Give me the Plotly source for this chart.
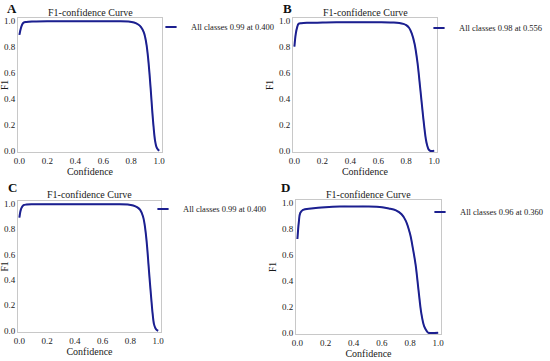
import plotly.graph_objects as go

W, H = 550, 361

# ---- data ----
xa = [0, 0.01, 0.02, 0.03, 0.05, 0.1, 0.2, 0.3, 0.4, 0.5, 0.6, 0.7, 0.78, 0.82, 0.85, 0.87, 0.89, 0.9, 0.91, 0.92, 0.93, 0.94, 0.95, 0.96, 0.97, 0.98, 0.99, 1.0]
ya = [0.89, 0.94, 0.97, 0.985, 0.99, 0.993, 0.995, 0.995, 0.995, 0.995, 0.995, 0.995, 0.993, 0.985, 0.97, 0.95, 0.91, 0.87, 0.81, 0.72, 0.6, 0.46, 0.31, 0.18, 0.08, 0.03, 0.01, 0.0]

xb = [0, 0.01, 0.02, 0.03, 0.05, 0.1, 0.2, 0.3, 0.4, 0.5, 0.6, 0.7, 0.75, 0.78, 0.8, 0.82, 0.84, 0.86, 0.88, 0.9, 0.92, 0.94, 0.95, 0.96, 0.97, 1.0]
yb = [0.80, 0.90, 0.95, 0.975, 0.98, 0.983, 0.985, 0.987, 0.988, 0.988, 0.987, 0.985, 0.982, 0.975, 0.965, 0.945, 0.9, 0.82, 0.68, 0.48, 0.27, 0.09, 0.04, 0.01, 0.0, 0.0]

xc = [0, 0.01, 0.02, 0.03, 0.05, 0.1, 0.2, 0.3, 0.4, 0.5, 0.6, 0.7, 0.78, 0.82, 0.85, 0.87, 0.89, 0.9, 0.91, 0.92, 0.93, 0.94, 0.95, 0.96, 0.97, 0.98, 0.99, 1.0]
yc = [0.89, 0.95, 0.975, 0.988, 0.992, 0.994, 0.995, 0.995, 0.995, 0.995, 0.995, 0.995, 0.993, 0.985, 0.97, 0.95, 0.9, 0.85, 0.77, 0.66, 0.52, 0.38, 0.25, 0.13, 0.05, 0.02, 0.005, 0.0]

xd = [0, 0.01, 0.02, 0.04, 0.1, 0.2, 0.3, 0.4, 0.5, 0.6, 0.65, 0.7, 0.74, 0.77, 0.8, 0.82, 0.84, 0.86, 0.88, 0.9, 0.92, 0.93, 1.0]
yd = [0.72, 0.85, 0.92, 0.945, 0.955, 0.965, 0.97, 0.97, 0.97, 0.965, 0.955, 0.94, 0.91, 0.86, 0.76, 0.65, 0.52, 0.33, 0.15, 0.05, 0.01, 0.0, 0.0]

legend_texts = ["All classes 0.99 at 0.400", "All classes 0.98 at 0.556",
                "All classes 0.99 at 0.400", "All classes 0.96 at 0.360"]
panel_letters = ["A", "B", "C", "D"]
tick_vals = [0, 0.2, 0.4, 0.6, 0.8, 1.0]
tick_text = ["0.0", "0.2", "0.4", "0.6", "0.8", "1.0"]

# ---- layout (pixel boxes: x0, x1, ytop, ybottom) ----
boxes = [(18, 162, 18, 152), (293, 437, 18, 152), (18, 161, 201, 332), (296, 441, 200, 334)]
legend_pos = [(151, 27), (419, 28), (143, 209), (420, 212)]
letter_pos = [(12, 9), (287, 9), (12, 187), (285, 187)]

FONT = "'Liberation Serif', 'DejaVu Serif', serif"
LINE = "#1c1f8f"
TXT = "#1a1a1a"

fig = go.Figure()
layout = dict(
    width=W, height=H, margin=dict(l=0, r=0, t=0, b=0, autoexpand=False),
    paper_bgcolor="white", plot_bgcolor="white",
    font=dict(family=FONT, size=9, color=TXT),
    showlegend=True, annotations=[],
)

series = [(xa, ya), (xb, yb), (xc, yc), (xd, yd)]
for i, ((xs, ys), (x0, x1, yt, yb_), txt) in enumerate(zip(series, boxes, legend_texts)):
    n = "" if i == 0 else str(i + 1)
    lg = "legend" if i == 0 else f"legend{i+1}"
    fig.add_trace(go.Scatter(x=xs, y=ys, mode="lines", line=dict(color="#8fb3ee", width=1.2, shape="spline"),
                             xaxis="x" + n, yaxis="y" + n, showlegend=False, hoverinfo="skip"))
    fig.add_trace(go.Scatter(x=xs, y=ys, mode="lines", line=dict(color=LINE, width=2, shape="spline"),
                             xaxis="x" + n, yaxis="y" + n, showlegend=False))
    fig.add_trace(go.Scatter(x=[None], y=[None], mode="markers", name=txt,
                             marker=dict(symbol="line-ew", size=8, line=dict(color=LINE, width=2.2)),
                             xaxis="x" + n, yaxis="y" + n, legend=lg))
    lx, ly = legend_pos[i]
    layout[lg] = dict(x=lx / W, y=1 - ly / H, xanchor="left", yanchor="middle",
                      font=dict(family=FONT, size=8.5, color=TXT), bgcolor="rgba(0,0,0,0)",
                      itemwidth=30, tracegroupgap=0)
    common = dict(showline=True, mirror=True, linecolor="#c8c8c8", linewidth=1, showgrid=False,
                  zeroline=False, ticks="", tickvals=tick_vals, ticktext=tick_text, automargin=False,
                  tickfont=dict(family=FONT, size=9, color=TXT))
    layout["xaxis" + n] = dict(domain=[x0 / W, x1 / W], range=[-0.01, 1.02], anchor="y" + n,
                               title=dict(text="Confidence", font=dict(family=FONT, size=10, color=TXT), standoff=1),
                               **common)
    layout["yaxis" + n] = dict(domain=[1 - yb_ / H, 1 - yt / H], range=[-0.01, 1.02], anchor="x" + n,
                               title=dict(text="F1", font=dict(family=FONT, size=9.5, color=TXT), standoff=3),
                               **common)
    layout["annotations"].append(dict(text="F1-confidence Curve", x=(x0 + x1) / 2 / W, y=1 - (yt - 6) / H,
                                      xref="paper", yref="paper", showarrow=False, xanchor="center", yanchor="middle",
                                      font=dict(family=FONT, size=10, color=TXT)))
    px_, py_ = letter_pos[i]
    layout["annotations"].append(dict(text="<b>" + panel_letters[i] + "</b>", x=px_ / W, y=1 - py_ / H,
                                      xref="paper", yref="paper", showarrow=False, xanchor="center", yanchor="middle",
                                      font=dict(family=FONT, size=13, color="#111")))

fig.update_layout(**layout)
fig.write_html("out.html", config={"displayModeBar": False},
               post_script="document.body.style.margin='0';document.body.style.overflow='hidden';")
